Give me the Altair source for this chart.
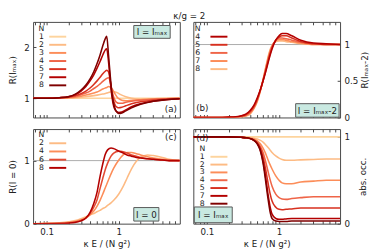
import altair as alt
import pandas as pd

FONT = "DejaVu Sans"
TXT = "#222222"

# ---------------- data ----------------
# panel (a): R(I_max)
xa = [0.065, 0.1, 0.15, 0.2, 0.25, 0.3, 0.35, 0.4, 0.45, 0.5, 0.55, 0.6, 0.65, 0.68,
      0.72, 0.76, 0.8, 0.85, 0.9, 0.95, 1.0, 1.1, 1.25, 1.5, 2.0, 3.0, 4.5, 7.0]
Na = ["1", "2", "3", "4", "5", "7", "8"]
a_N1 = [1.0] * 28
a_N2 = [1.0, 1.0, 1.0, 1.0, 1.01, 1.02, 1.03, 1.04, 1.05, 1.06, 1.07, 1.08, 1.09, 1.10,
        1.11, 1.12, 1.13, 1.13, 1.12, 1.11, 1.09, 1.06, 1.03, 1.0, 0.98, 0.99, 1.0, 1.0]
a_N3 = [1.0, 1.0, 1.0, 1.01, 1.02, 1.04, 1.06, 1.08, 1.10, 1.12, 1.15, 1.18, 1.20, 1.21,
        1.23, 1.22, 1.19, 1.13, 1.07, 1.02, 0.99, 0.96, 0.95, 0.96, 0.97, 0.98, 0.99, 1.0]
a_N4 = [1.0, 1.0, 1.0, 1.02, 1.04, 1.07, 1.10, 1.14, 1.19, 1.23, 1.28, 1.33, 1.37, 1.39,
        1.40, 1.32, 1.16, 1.02, 0.94, 0.91, 0.90, 0.90, 0.92, 0.94, 0.96, 0.98, 0.99, 1.0]
a_N5 = [1.0, 1.0, 1.01, 1.02, 1.05, 1.09, 1.14, 1.20, 1.27, 1.34, 1.41, 1.48, 1.53, 1.55,
        1.52, 1.35, 1.12, 0.94, 0.85, 0.82, 0.81, 0.82, 0.85, 0.89, 0.93, 0.96, 0.98, 0.99]
a_N7 = [1.0, 1.0, 1.01, 1.03, 1.07, 1.14, 1.23, 1.34, 1.46, 1.59, 1.72, 1.85, 1.95, 1.97,
        1.72, 1.35, 1.05, 0.84, 0.76, 0.73, 0.72, 0.73, 0.77, 0.83, 0.89, 0.94, 0.97, 0.99]
a_N8 = [1.0, 1.0, 1.01, 1.03, 1.08, 1.16, 1.26, 1.38, 1.52, 1.68, 1.85, 2.03, 2.17, 2.22,
        1.85, 1.45, 1.12, 0.88, 0.77, 0.72, 0.70, 0.71, 0.75, 0.81, 0.88, 0.94, 0.97, 0.99]
colors_a = ["#fdd49e", "#fdbb84", "#fc8d59", "#ef6548", "#d7301f", "#b30000", "#7f0000"]

# panel (b): R(I_max-2)
xb = [0.065, 0.1, 0.15, 0.2, 0.25, 0.3, 0.35, 0.4, 0.45, 0.5, 0.55, 0.6, 0.65, 0.7, 0.75,
      0.8, 0.9, 1.0, 1.1, 1.25, 1.5, 2.0, 3.0, 4.5, 7.0]
Nb = ["4", "5", "6", "7", "8"]
b_N4 = [0, 0, 0, 0.005, 0.01, 0.025, 0.05, 0.1, 0.17, 0.27, 0.38, 0.5, 0.62, 0.74, 0.85,
        0.94, 1.06, 1.12, 1.15, 1.15, 1.12, 1.06, 1.02, 1.01, 1.0]
b_N5 = [0, 0, 0, 0.003, 0.008, 0.02, 0.04, 0.085, 0.155, 0.255, 0.375, 0.5, 0.63, 0.76, 0.87,
        0.96, 1.06, 1.10, 1.12, 1.12, 1.09, 1.04, 1.01, 1.0, 1.0]
b_N6 = [0, 0, 0, 0.002, 0.005, 0.014, 0.032, 0.072, 0.14, 0.24, 0.37, 0.51, 0.65, 0.78, 0.89,
        0.97, 1.06, 1.09, 1.09, 1.08, 1.06, 1.03, 1.01, 1.0, 1.0]
b_N7 = [0, 0, 0, 0.001, 0.003, 0.009, 0.025, 0.06, 0.13, 0.23, 0.365, 0.515, 0.665, 0.80, 0.91,
        0.98, 1.05, 1.07, 1.07, 1.06, 1.04, 1.02, 1.0, 1.0, 1.0]
b_N8 = [0, 0, 0, 0, 0.001, 0.005, 0.02, 0.05, 0.12, 0.22, 0.36, 0.52, 0.68, 0.82, 0.93,
        0.99, 1.04, 1.05, 1.05, 1.04, 1.03, 1.01, 1.0, 1.0, 1.0]
colors_b = ["#b30000", "#d7301f", "#ef6548", "#fc8d59", "#fdbb84"]

# panel (c): R(I = 0)
xc = [0.065, 0.1, 0.15, 0.2, 0.25, 0.3, 0.35, 0.4, 0.45, 0.5, 0.55, 0.6, 0.65, 0.7, 0.78,
      0.85, 1.0, 1.15, 1.3, 1.5, 1.75, 2.0, 2.5, 3.0, 4.0, 5.0, 7.0]
Nc = ["2", "4", "6", "8"]
c_N2 = [0, 0.005, 0.015, 0.03, 0.05, 0.08, 0.11, 0.14, 0.16, 0.19, 0.21, 0.24, 0.26, 0.29,
        0.33, 0.37, 0.47, 0.59, 0.72, 0.87, 0.99, 1.05, 1.09, 1.08, 1.05, 1.02, 1.0]
c_N4 = [0, 0.002, 0.008, 0.02, 0.035, 0.06, 0.09, 0.14, 0.2, 0.28, 0.37, 0.47, 0.57, 0.66,
        0.79, 0.88, 1.01, 1.09, 1.13, 1.13, 1.11, 1.09, 1.06, 1.04, 1.02, 1.01, 1.0]
c_N6 = [0, 0.001, 0.004, 0.012, 0.025, 0.05, 0.09, 0.16, 0.26, 0.38, 0.56, 0.72, 0.86, 0.96,
        1.07, 1.12, 1.15, 1.14, 1.12, 1.09, 1.07, 1.05, 1.03, 1.02, 1.01, 1.0, 1.0]
c_N8 = [0, 0, 0.002, 0.008, 0.02, 0.045, 0.09, 0.18, 0.32, 0.5, 0.75, 0.95, 1.1, 1.17,
        1.2, 1.19, 1.15, 1.12, 1.09, 1.07, 1.05, 1.04, 1.03, 1.02, 1.01, 1.0, 1.0]
colors_c = ["#fdbb84", "#fc8d59", "#e34a33", "#b30000"]

# panel (d): abs. occ.
xd = [0.065, 0.1, 0.2, 0.3, 0.35, 0.4, 0.45, 0.5, 0.55, 0.6, 0.65, 0.7, 0.75, 0.8, 0.9,
      1.0, 1.1, 1.25, 1.5, 2.0, 3.0, 4.5, 7.0]
Nd = ["1", "2", "3", "4", "5", "7", "8"]
d_N1 = [1.0] * 23
d_N2 = [1, 1, 1, 1, 0.995, 0.99, 0.985, 0.975, 0.96, 0.94, 0.91, 0.88, 0.85, 0.82, 0.78,
        0.755, 0.74, 0.73, 0.73, 0.735, 0.74, 0.745, 0.745]
d_N3 = [1, 1, 1, 0.995, 0.99, 0.985, 0.975, 0.955, 0.92, 0.87, 0.81, 0.74, 0.68, 0.63, 0.55,
        0.5, 0.47, 0.46, 0.46, 0.48, 0.49, 0.5, 0.5]
d_N4 = [1, 1, 1, 0.995, 0.99, 0.98, 0.965, 0.94, 0.89, 0.82, 0.72, 0.61, 0.51, 0.43, 0.34,
        0.3, 0.285, 0.28, 0.29, 0.3, 0.31, 0.31, 0.31]
d_N5 = [1, 1, 1, 0.995, 0.99, 0.98, 0.96, 0.93, 0.87, 0.77, 0.63, 0.48, 0.35, 0.26, 0.19,
        0.165, 0.16, 0.165, 0.17, 0.18, 0.18, 0.18, 0.18]
d_N7 = [1, 1, 1, 0.995, 0.99, 0.98, 0.96, 0.92, 0.85, 0.72, 0.54, 0.35, 0.2, 0.11, 0.06,
        0.05, 0.05, 0.055, 0.06, 0.06, 0.06, 0.06, 0.06]
d_N8 = [1, 1, 1, 0.995, 0.99, 0.98, 0.96, 0.92, 0.84, 0.7, 0.5, 0.3, 0.14, 0.06, 0.03,
        0.025, 0.025, 0.025, 0.03, 0.03, 0.03, 0.03, 0.03]
colors_d = colors_a

x_ticks = [0.07, 0.08, 0.09, 0.1, 0.2, 0.3, 0.4, 0.5, 0.6, 0.7, 0.8, 0.9, 1, 2, 3, 4, 5, 6]
X_DOMAIN = [0.065, 7.0]


def long_df(xs, curves, labels, colors):
    rows = []
    for lab, ys, col in zip(labels, curves, colors):
        for x, y in zip(xs, ys):
            rows.append({"x": x, "y": y, "N": lab, "c": col})
    return pd.DataFrame(rows)


def x_axis(orient, labels):
    kw = dict(orient=orient, values=x_ticks, offset=-3, tickSize=3, domain=False,
              grid=False, labelOverlap=False, tickColor="#444444")
    if labels:
        kw.update(labelExpr="datum.value == 0.1 ? '0.1' : (datum.value == 1 ? '1' : '')",
                  labelPadding=4, title="κ E / (N g²)", titlePadding=4)
    else:
        kw.update(labels=False, title=None)
    return alt.Axis(**kw)


def y_axis(orient, values, title, title_pad):
    kw = dict(orient=orient, values=values, offset=-3, tickSize=3, domain=False,
              grid=False, labelPadding=4, format="~g", title=title,
              titlePadding=title_pad, titleAngle=270, tickColor="#444444")
    if orient == "right":
        kw["titleBaseline"] = "top"
    return alt.Axis(**kw)


one = pd.DataFrame({"k": [0]})


def panel(df, Ns, colors, ydom, yax, bottom_labels, leg, box, tag, unity, w, h):
    xsc = alt.Scale(type="log", domain=X_DOMAIN)
    ysc = alt.Scale(domain=ydom)
    lines = alt.Chart(df).mark_line(interpolate="monotone", strokeWidth=1.6, clip=True).encode(
        x=alt.X("x:Q", scale=xsc, axis=x_axis("bottom", bottom_labels)),
        y=alt.Y("y:Q", scale=ysc, axis=yax),
        color=alt.Color("c:N", scale=None),
        detail="N:N",
    )
    if unity:
        rule = alt.Chart(pd.DataFrame({"v": [1.0]})).mark_rule(color="#aaaaaa", strokeWidth=1).encode(
            y=alt.Y("v:Q", scale=ysc, axis=yax))
        inner = alt.layer(rule, lines)
    else:
        inner = alt.layer(lines)
    ghost = alt.Chart(df).mark_point(opacity=0).encode(
        x=alt.X("x:Q", scale=xsc, axis=x_axis("top", False)))

    lx, y0, step, lx1, lx2 = leg
    leg_txt = pd.DataFrame({"row": [-1] + list(range(len(Ns))), "t": ["N"] + Ns})
    leg_lin = pd.DataFrame({"row": list(range(len(Ns))), "N": Ns, "c": colors})
    yleg = alt.Y("row:Q", scale=alt.Scale(domain=[0, 1], range=[y0, y0 + step], zero=False, nice=False), axis=None)
    ltext = alt.Chart(leg_txt).mark_text(font=FONT, fontSize=8, color=TXT, align="center",
                                         baseline="middle").encode(
        x=alt.value(lx), y=yleg, text="t:N")
    lrule = alt.Chart(leg_lin).mark_rule(strokeWidth=2).encode(
        x=alt.value(lx1), x2=alt.value(lx2), y=yleg, color=alt.Color("c:N", scale=None))

    bx1, bx2, by1, by2, btxt = box
    brect = alt.Chart(one).mark_rect(fill="#c9e9e1", stroke="#555555", strokeWidth=1).encode(
        x=alt.value(bx1), x2=alt.value(bx2), y=alt.value(by1), y2=alt.value(by2))
    btext = alt.Chart(one).mark_text(font=FONT, fontSize=9, color=TXT, align="center",
                                     baseline="middle").encode(
        x=alt.value((bx1 + bx2) / 2), y=alt.value((by1 + by2) / 2 + 0.5), text=alt.value(btxt))

    tx, ty, tt = tag
    ttext = alt.Chart(one).mark_text(font=FONT, fontSize=9, color=TXT, align="center",
                                     baseline="middle").encode(
        x=alt.value(tx), y=alt.value(ty), text=alt.value(tt))

    return alt.layer(inner, ghost, ltext, lrule, brect, btext, ttext).resolve_scale(
        y="independent").resolve_axis(x="independent").properties(width=w, height=h)


df_a = long_df(xa, [a_N1, a_N2, a_N3, a_N4, a_N5, a_N7, a_N8], Na, colors_a)
df_b = long_df(xb, [b_N8, b_N7, b_N6, b_N5, b_N4], ["8", "7", "6", "5", "4"], colors_b[::-1])
df_c = long_df(xc, [c_N2, c_N4, c_N6, c_N8], Nc, colors_c)
df_d = long_df(xd, [d_N1, d_N2, d_N3, d_N4, d_N5, d_N7, d_N8], Nd, colors_d)

W = 152
A = panel(df_a, Na, colors_a, [0.62, 2.5], y_axis("left", [1, 2], "R(Iₘₐₓ)", 6), False,
          (8.7, 15.3, 8.4, 16.7, 34.3), (104.3, 142, 3.7, 17, "I = Iₘₐₓ"),
          (142.7, 90.3, "(a)"), False, W, 99)
B = panel(df_b, Nb, colors_b, [0, 1.31], y_axis("right", [0, 0.5, 1], "R(Iₘₐₓ-2)", 3), False,
          (4.5, 15.3, 8.4, 17.7, 35.3), (106, 151, 84.7, 98.7, "I = Iₘₐₓ-2"),
          (9.3, 89.7, "(b)"), True, W, 99)
C = panel(df_c, Nc, colors_c, [0, 1.5], y_axis("left", [0, 1], "R(I = 0)", 6), True,
          (8.7, 14.7, 8.5, 16.7, 34.3), (104.3, 130.3, 81.3, 95.3, "I = 0"),
          (142.7, 8, "(c)"), True, W, 98)
D = panel(df_d, Nd, colors_d, [0, 1.09], y_axis("right", [0, 1], "abs. occ.", 10), True,
          (9.3, 28.7, 8.1, 17.7, 35.3), (1, 40.3, 80.7, 97, "I = Iₘₐₓ"),
          (9.3, 9, "(d)"), False, W, 98)

chart = alt.concat(A, B, C, D, columns=2, spacing={"row": 5, "column": 6}).properties(
    title=alt.TitleParams("κ/g = 2", fontSize=9, fontWeight="normal", font=FONT, color=TXT,
                          anchor="middle", offset=0),
    padding=0,
).configure_view(stroke="#444444", strokeWidth=1).configure_axis(
    labelFont=FONT, titleFont=FONT, labelFontSize=9, titleFontSize=9, labelColor=TXT,
    titleColor=TXT, titleFontWeight="normal",
)

chart.save("out.html", embed_options={"renderer": "svg", "actions": False})
